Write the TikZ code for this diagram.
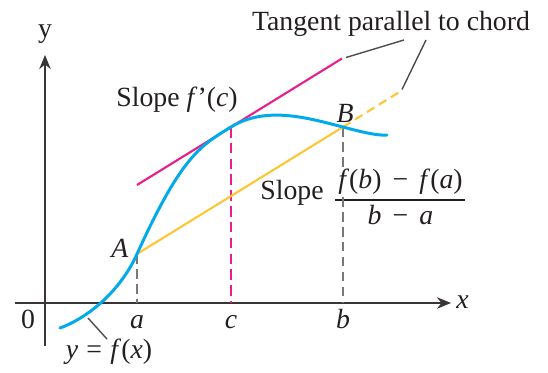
\documentclass[tikz,border=0pt]{standalone}
\usepackage{fontspec}
\setmainfont{Liberation Serif}
\usepackage{amsmath}
\usetikzlibrary{arrows.meta, positioning, calc}
\definecolor{cCurve}{RGB}{0, 170, 235}
\definecolor{cTangent}{RGB}{232, 30, 140}
\definecolor{cChord}{RGB}{253, 198, 50}
\definecolor{cGuide}{RGB}{120, 120, 120}
\definecolor{tDark}{RGB}{35, 31, 32}
\newcommand{\itv}[1]{\textit{#1}}
\newcommand{\mminus}{\hspace{0.4em}−\hspace{0.4em}}

\begin{document}
\begin{tikzpicture}[
    font=\fontsize{15.8}{18}\selectfont,
    >=Stealth,
    lbl/.style={inner sep=0pt, text=tDark},
    axis/.style={-{Stealth[length=8pt, width=6.5pt]}, line width=1.1pt, color=tDark!90},
    guide/.style={cGuide, line width=0.8pt, dash pattern=on 5.5pt off 3pt},
    leader/.style={tDark!80, line width=0.8pt},
    tangent/.style={cTangent, line width=1.2pt},
    chord/.style={cChord, line width=1.2pt}
]

\useasboundingbox (-0.90,-1.38) rectangle (10.06,6.06);

% Axes
\coordinate (xstart) at (-0.60,0);
\coordinate (xend) at (8.12,0);
\coordinate (ystart) at (0,-0.86);
\coordinate (yend) at (0,4.96);
\draw[axis] (xstart) -- (xend);
\draw[axis] (ystart) -- (yend);

\node[lbl, anchor=base] (lbly) at (0,5.30) {y};
\node[lbl, anchor=base west] (lblx) at (8.22,-0.10) {\itv{x}};
\node[lbl, anchor=base] (lblzero) at (-0.34,-0.52) {0};

% Points on the curve
\coordinate (ptA) at (1.84,0.98);
\coordinate (ptC) at (3.72,3.52);
\coordinate (ptB) at (5.96,3.52);
\coordinate (ta) at (1.84,0);
\coordinate (tc) at (3.72,0);
\coordinate (tb) at (5.96,0);
\coordinate (tanstart) at (1.84,2.36);
\coordinate (tanend) at (5.94,4.89);
\coordinate (chordend) at (7.12,4.24);

\node[lbl, anchor=base] (lbla) at (ta |- 0,-0.52) {\itv{a}};
\node[lbl, anchor=base] (lblc) at (tc |- 0,-0.52) {\itv{c}};
\node[lbl, anchor=base] (lblb) at (tb |- 0,-0.52) {\itv{b}};

% Slope of the chord
\node[lbl] (slope) at (6.38,2.12) {\raisebox{0.25em}{Slope}\hspace{0.1em} $\genfrac{}{}{0.9pt}{0}{\text{\hspace{0.1em}\itv{f}(\itv{b})\mminus\itv{f}(\itv{a})\hspace{0.1em}}}{\text{\itv{b}\mminus\itv{a}}}$};

% Dashed guides
\draw[guide] (ptA) -- (ta);
\draw[guide] (ptB) -- (ptB |- slope.north);
\draw[guide] (slope.center -| ptB) -- (tb);
\draw[tangent, dash pattern=on 6pt off 3pt] (ptC) -- (tc);

% Chord and tangent
\draw[chord] (ptA) -- (ptB);
\draw[chord, dash pattern=on 5pt off 3pt] (ptB) -- (chordend);
\draw[tangent] (tanstart) -- (tanend);

% Curve y = f(x)
\draw[cCurve, line width=1.7pt, line cap=round]
    (0.30,-0.50) .. controls (0.75,-0.34) and (1.46,0.14) .. (ptA)
    .. controls (2.74,2.96) and (3.12,3.15) .. (ptC)
    .. controls (4.42,3.95) and (5.26,3.70) .. (ptB)
    .. controls (6.26,3.44) and (6.64,3.34) .. (6.84,3.36);

\node[lbl] (lblA) at (1.50,1.10) {\itv{A}};
\node[lbl] (lblB) at (6.00,3.80) {\itv{B}};
\node[lbl] (slopec) at (2.64,4.06) {Slope \itv{f}'(\itv{c})};

% Tangent parallel to chord
\node[lbl, anchor=base] (tangentlbl) at (6.92,5.44) {Tangent parallel to chord};
\coordinate (lk1) at (7.18,5.26);
\coordinate (lk2) at (7.62,5.26);
\draw[leader] ($(tanend)+(0.08,0.02)$) -- (lk1);
\draw[leader] (lk2) -- ($(chordend)+(0.02,0.03)$);

% y = f(x)
\node[lbl, anchor=base] (lblfx) at (1.28,-1.12) {\itv{y}\hspace{0.3em}=\hspace{0.3em}\itv{f}(\itv{x})};
\coordinate (fxfoot) at (0.86,-0.30);
\draw[leader] (fxfoot) -- ($(lblfx.north)+(-0.04,0)$);

\end{tikzpicture}
\end{document}
